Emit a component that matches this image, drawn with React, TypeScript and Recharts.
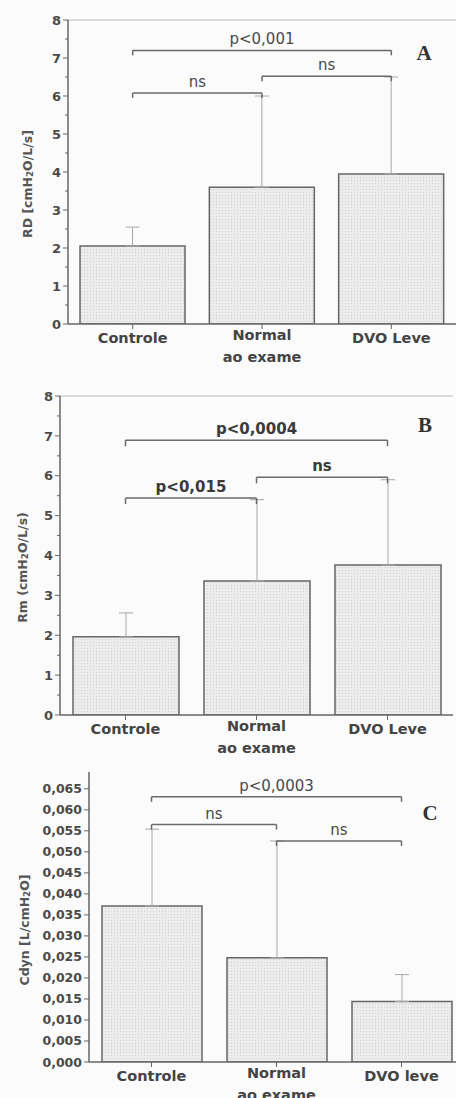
import React from 'react';
import { BarChart, Bar, XAxis, YAxis, ErrorBar, ReferenceLine } from 'recharts';

// ---- Data ----
const categoryLines: string[][] = [['Controle'], ['Normal', 'ao exame'], ['DVO Leve']];
const categoryLinesC: string[][] = [['Controle'], ['Normal', 'ao exame'], ['DVO leve']];

const rdMean = [2.05, 3.6, 3.95];
const rdErr = [0.5, 2.4, 2.55];

const rmMean = [1.96, 3.36, 3.76];
const rmErr = [0.6, 2.04, 2.14];

const cdynMean = [0.0371, 0.0248, 0.0144];
const cdynErr = [0.0183, 0.0278, 0.0064];

const rTicks = [0, 0.5, 1, 1.5, 2, 2.5, 3, 3.5, 4, 4.5, 5, 5.5, 6, 6.5, 7, 7.5, 8];
const cTicks = [0, 0.005, 0.01, 0.015, 0.02, 0.025, 0.03, 0.035, 0.04, 0.045, 0.05, 0.055, 0.06, 0.065];

type Bracket = { from: number; to: number; y: number; label: string };
const bracketsA: Bracket[] = [
  { from: 0, to: 2, y: 7.2, label: 'p<0,001' },
  { from: 0, to: 1, y: 6.08, label: 'ns' },
  { from: 1, to: 2, y: 6.52, label: 'ns' },
];
const bracketsB: Bracket[] = [
  { from: 0, to: 2, y: 6.89, label: 'p<0,0004' },
  { from: 0, to: 1, y: 5.44, label: 'p<0,015' },
  { from: 1, to: 2, y: 5.96, label: 'ns' },
];
const bracketsC: Bracket[] = [
  { from: 0, to: 2, y: 0.0631, label: 'p<0,0003' },
  { from: 0, to: 1, y: 0.0565, label: 'ns' },
  { from: 1, to: 2, y: 0.0526, label: 'ns' },
];

const FONT = '"DejaVu Sans", "Liberation Sans", Arial, sans-serif';

function buildData(lines: string[][], mean: number[], err: number[]) {
  return lines.map((l, i) => ({ name: l.join('\n'), value: mean[i], err: [0, err[i]] }));
}

type PanelProps = {
  top: number;
  width: number;
  height: number;
  marginTop: number;
  yWidth: number;
  xHeight: number;
  lines: string[][];
  mean: number[];
  err: number[];
  domain: [number, number];
  ticks: number[];
  isMajor: (v: number) => boolean;
  fmt: (v: number) => string;
  yLabel: React.ReactNode;
  yLabelX: number;
  yLabelDy: number;
  brackets: Bracket[];
  drop: number;
  letter: string;
  letterX: number;
  letterY: number;
  barSize: number;
  pid: string;
  bBold: boolean;
  topLine: boolean;
  tickFont: number;
};

function Panel(p: PanelProps) {
  const data = buildData(p.lines, p.mean, p.err);
  const names = data.map((d) => d.name);
  const plotH = p.height - p.marginTop - p.xHeight;
  const axisX = p.yWidth;

  const YTick = (props: any) => {
    const { y, payload } = props;
    const v = payload.value as number;
    const major = p.isMajor(v);
    return (
      <g>
        <line x1={axisX - (major ? 5 : 3)} x2={axisX} y1={y} y2={y} stroke="#666" strokeWidth={1} />
        {major && (
          <text x={axisX - 7} y={y} dy="0.36em" textAnchor="end" fontFamily={FONT} fontWeight={700} fontSize={p.tickFont} fill="#4a4a4a">
            {p.fmt(v)}
          </text>
        )}
      </g>
    );
  };

  const XTick = (props: any) => {
    const { x, y, payload } = props;
    const parts = String(payload.value).split('\n');
    const axisY = y - 7;
    return (
      <g>
        {parts.length === 1 ? (
          <text x={x} y={axisY + 14} dy="0.36em" textAnchor="middle" fontFamily={FONT} fontWeight={700} fontSize={14.5} fill="#444">
            {parts[0]}
          </text>
        ) : (
          parts.map((t, i) => (
            <text key={i} x={x} y={axisY + 11 + i * 22} dy="0.36em" textAnchor="middle" fontFamily={FONT} fontWeight={700} fontSize={14.5} fill="#444">
              {t}
            </text>
          ))
        )}
      </g>
    );
  };

  const renderYLabel = () => {
    const cy = p.marginTop + plotH / 2 + p.yLabelDy;
    return (
      <text
        x={p.yLabelX}
        y={cy}
        transform={`rotate(-90, ${p.yLabelX}, ${cy})`}
        textAnchor="middle"
        dominantBaseline="central"
        fontFamily={FONT}
        fontWeight={700}
        fontSize={12.5}
        fill="#555"
      >
        {p.yLabel}
      </text>
    );
  };

  return (
    <div style={{ position: 'absolute', left: 0, top: p.top }}>
      <BarChart width={p.width} height={p.height} data={data} margin={{ top: p.marginTop, right: 0, left: 0, bottom: 0 }}>
        <defs>
          <pattern id={p.pid} width={3} height={3} patternUnits="userSpaceOnUse">
            <rect width={3} height={3} fill="#ececec" />
            <rect width={1} height={1} fill="#d2d2d2" />
          </pattern>
        </defs>
        <XAxis
          dataKey="name"
          height={p.xHeight}
          tickSize={5}
          tickMargin={2}
          axisLine={{ stroke: '#666', strokeWidth: 1.5 }}
          tickLine={{ stroke: '#666' }}
          tick={<XTick />}
          interval={0}
        />
        <YAxis
          width={p.yWidth}
          domain={p.domain}
          ticks={p.ticks}
          interval={0}
          allowDataOverflow
          tickLine={false}
          tickSize={5}
          tickMargin={2}
          axisLine={{ stroke: '#666', strokeWidth: 1.5 }}
          tick={<YTick />}
          label={renderYLabel}
        />
        {p.topLine && <ReferenceLine y={p.domain[1]} stroke="#cfcfcf" strokeWidth={1.5} ifOverflow="extendDomain" />}
        <Bar dataKey="value" barSize={p.barSize} fill={`url(#${p.pid})`} stroke="#666" strokeWidth={1.5} isAnimationActive={false}>
          <ErrorBar dataKey="err" width={7} stroke="#a8a8a8" strokeWidth={1} direction="y" />
        </Bar>
        {p.brackets.map((b, i) => (
          <ReferenceLine
            key={`b${i}`}
            segment={[
              { x: names[b.from], y: b.y },
              { x: names[b.to], y: b.y },
            ]}
            stroke="#6a6a6a"
            strokeWidth={1.5}
            ifOverflow="visible"
            label={{
              value: b.label,
              position: 'top',
              offset: 6,
              fill: p.bBold ? '#3a3a3a' : '#4a4a4a',
              fontFamily: FONT,
              fontWeight: p.bBold ? 700 : 400,
              fontSize: 15,
            }}
          />
        ))}
        {p.brackets.map((b, i) => (
          <ReferenceLine
            key={`l${i}`}
            segment={[
              { x: names[b.from], y: b.y },
              { x: names[b.from], y: b.y - p.drop },
            ]}
            stroke="#6a6a6a"
            strokeWidth={1.5}
            ifOverflow="visible"
          />
        ))}
        {p.brackets.map((b, i) => (
          <ReferenceLine
            key={`r${i}`}
            segment={[
              { x: names[b.to], y: b.y },
              { x: names[b.to], y: b.y - p.drop },
            ]}
            stroke="#6a6a6a"
            strokeWidth={1.5}
            ifOverflow="visible"
          />
        ))}
      </BarChart>
      <div
        style={{
          position: 'absolute',
          left: p.letterX,
          top: p.letterY,
          transform: 'translate(-50%, -50%)',
          fontFamily: '"Liberation Serif", "DejaVu Serif", serif',
          fontWeight: 700,
          fontSize: 21,
          color: '#333',
          lineHeight: 1,
        }}
      >
        {p.letter}
      </div>
    </div>
  );
}

const sub = (pre: string, post: string) => (
  <>
    <tspan>{pre}</tspan>
    <tspan fontSize="0.7em" dy={3}>2</tspan>
    <tspan dy={-3}>{post}</tspan>
  </>
);

export default function App() {
  return (
    <div style={{ position: 'absolute', left: 0, top: 0, width: 456, height: 1098, overflow: 'hidden', background: '#fbfbfb' }}>
      <Panel
        top={0}
        width={456}
        height={370}
        marginTop={20}
        yWidth={68}
        xHeight={46}
        lines={categoryLines}
        mean={rdMean}
        err={rdErr}
        domain={[0, 8]}
        ticks={rTicks}
        isMajor={(v) => Number.isInteger(v)}
        fmt={(v) => String(v)}
        yLabel={sub('RD [cmH', 'O/L/s]')}
        yLabelX={27}
        yLabelDy={12}
        brackets={bracketsA}
        drop={0.13}
        letter="A"
        letterX={424}
        letterY={53}
        barSize={105}
        pid="hatchA"
        bBold={false}
        topLine
        tickFont={13}
      />
      <Panel
        top={360}
        width={453}
        height={400}
        marginTop={36}
        yWidth={60}
        xHeight={45}
        lines={categoryLines}
        mean={rmMean}
        err={rmErr}
        domain={[0, 8]}
        ticks={rTicks}
        isMajor={(v) => Number.isInteger(v)}
        fmt={(v) => String(v)}
        yLabel={sub('Rm (cmH', 'O/L/s)')}
        yLabelX={22}
        yLabelDy={12}
        brackets={bracketsB}
        drop={0.15}
        letter="B"
        letterX={425}
        letterY={65}
        barSize={106}
        pid="hatchB"
        bBold
        topLine
        tickFont={13}
      />
      <Panel
        top={740}
        width={464}
        height={358}
        marginTop={32}
        yWidth={89}
        xHeight={36}
        lines={categoryLinesC}
        mean={cdynMean}
        err={cdynErr}
        domain={[0, 0.069]}
        ticks={cTicks}
        isMajor={() => true}
        fmt={(v) => v.toFixed(3).replace('.', ',')}
        yLabel={sub('Cdyn [L/cmH', 'O]')}
        yLabelX={24}
        yLabelDy={13}
        brackets={bracketsC}
        drop={0.0012}
        letter="C"
        letterX={430}
        letterY={73}
        barSize={100}
        pid="hatchC"
        bBold={false}
        topLine={false}
        tickFont={12.5}
      />
    </div>
  );
}
